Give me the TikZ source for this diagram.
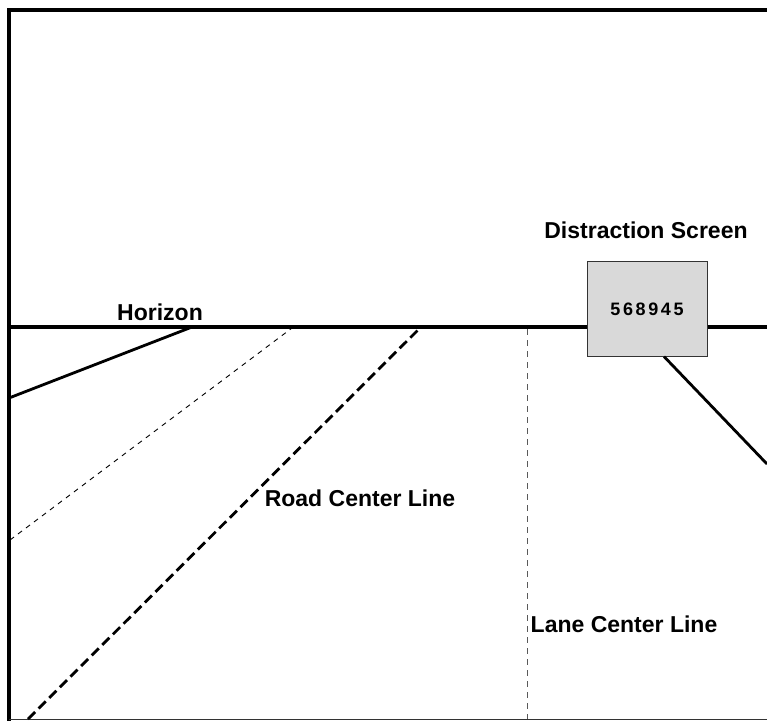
\documentclass[tikz,border=0pt]{standalone}
\usepackage{fontspec}
\setmainfont{Liberation Sans}
\begin{document}
\begin{tikzpicture}[x=1pt,y=-1pt,
  lbl/.style={font=\fontsize{23}{26}\selectfont\bfseries, inner sep=0pt, anchor=base},
  thickline/.style={line width=4.5pt},
  roadline/.style={line width=2.8pt},
  bigdash/.style={line width=2.8pt, dash pattern=on 10pt off 5pt},
  smalldash/.style={line width=0.9pt, dash pattern=on 5pt off 5pt},
  lanedash/.style={line width=0.8pt, gray!70!black, dash pattern=on 6pt off 5pt},
  screenbox/.style={draw=black!80, line width=1pt, fill=black!15, minimum width=120pt, minimum height=95pt, inner sep=0pt}
]
\useasboundingbox (0,0) rectangle (767,721);
% frame
\coordinate (tl) at (9,10);
\coordinate (tr) at (767,10);
\coordinate (bl) at (9,721);
\coordinate (bbl) at (9,719.5);
\coordinate (bbr) at (767,719.5);
\draw[thickline] (tr) -- (tl) -- (bl);
\draw[line width=1pt, black!80] (bbl) -- (bbr);
% horizon
\coordinate (hl) at (9,327);
\coordinate (hr) at (767,327);
\node[screenbox] (scr) at (647,309) {};
\draw[thickline] (hl) -- (hl -| scr.west);
\draw[thickline] (hr -| scr.east) -- (hr);
\node[font=\fontsize{18}{20}\selectfont\bfseries, inner sep=0pt] (num) at (scr.center) {5\kern2.6pt6\kern2.6pt8\kern2.6pt9\kern2.6pt4\kern2.6pt5};
% road lines
\coordinate (a1) at (9,398);
\coordinate (a2) at (192,327);
\draw[roadline] (a1) -- (a2);
\coordinate (b1) at (10,540);
\coordinate (b2) at (292,328);
\draw[smalldash] (b1) -- (b2);
\coordinate (c1) at (28,719);
\coordinate (c2) at (420,328);
\draw[bigdash] (c1) -- (c2);
\coordinate (d1) at (527,329);
\coordinate (d2) at (527,719);
\draw[lanedash] (d1) -- (d2);
\coordinate (e1) at (664,356.5);
\coordinate (e2) at (767,464);
\draw[roadline] (e1) -- (e2);
% labels
\node[lbl] (hz) at (160,320) {Horizon};
\node[lbl] (ds) at (646,238) {Distraction Screen};
\node[lbl] (rc) at (360,506) {Road Center Line};
\node[lbl] (lc) at (624,632) {Lane Center Line};
\end{tikzpicture}
\end{document}
